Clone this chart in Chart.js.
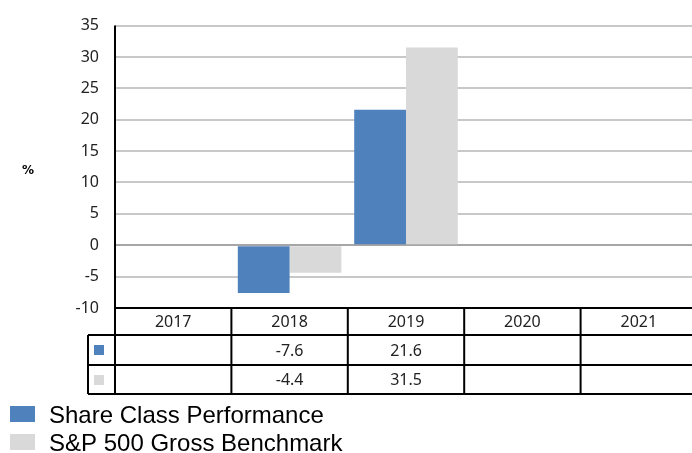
<!DOCTYPE html>
<html lang="en">
<head>
    <meta charset="UTF-8">
    <title>Share Class Performance</title>
    <script src="https://cdn.jsdelivr.net/npm/chart.js"></script>
    <style>
        body {
            margin: 0;
            padding: 0;
            background-color: white;
            overflow: hidden;
        }
        .chart-container {
            width: 697px;
            height: 453px;
            position: relative;
        }
    </style>
</head>
<body>
    <div class="chart-container">
        <canvas id="perfChart"></canvas>
    </div>

    <script>
        const years = ["2017", "2018", "2019", "2020", "2021"];
        const shareClass = [null, -7.6, 21.6, null, null];
        const benchmark = [null, -4.4, 31.5, null, null];
        const seriesNames = ["Share Class Performance", "S&P 500 Gross Benchmark"];
        const seriesColors = ["#4f81bd", "#d9d9d9"];

        const tickFont = "16px 'Noto Sans', sans-serif";

        // data table under the plot + "%" label + legend
        const tablePlugin = {
            id: "tablePlugin",
            afterDraw(chart) {
                const ctx = chart.ctx;
                const area = chart.chartArea;
                const x = chart.scales.x;
                const colW = (area.right - area.left) / years.length;
                const rows = [area.bottom, area.bottom + 27, area.bottom + 57, area.bottom + 86];

                ctx.save();
                ctx.strokeStyle = "#000";
                ctx.lineWidth = 2;

                // horizontal lines
                ctx.beginPath();
                ctx.moveTo(area.left, rows[0]);
                ctx.lineTo(area.right, rows[0]);
                rows.slice(1).forEach(r => {
                    ctx.moveTo(area.left - 27, r);
                    ctx.lineTo(area.right, r);
                });
                // vertical lines
                ctx.moveTo(area.left, area.top);
                ctx.lineTo(area.left, rows[3]);
                ctx.moveTo(area.left - 27, rows[1]);
                ctx.lineTo(area.left - 27, rows[3]);
                for (let i = 1; i < years.length; i++) {
                    const lx = area.left + i * colW;
                    ctx.moveTo(lx, rows[0]);
                    ctx.lineTo(lx, rows[3]);
                }
                ctx.stroke();

                // texts
                ctx.font = tickFont;
                ctx.fillStyle = "#222";
                ctx.textAlign = "center";
                ctx.textBaseline = "middle";
                years.forEach((y, i) => {
                    const cx = x.getPixelForValue(i);
                    ctx.fillText(y, cx, (rows[0] + rows[1]) / 2 + 1);
                    if (shareClass[i] !== null) ctx.fillText(shareClass[i].toFixed(1), cx, (rows[1] + rows[2]) / 2 + 1);
                    if (benchmark[i] !== null) ctx.fillText(benchmark[i].toFixed(1), cx, (rows[2] + rows[3]) / 2 + 1);
                });

                // markers in the first column
                ctx.fillStyle = seriesColors[0];
                ctx.fillRect(area.left - 21, rows[1] + 10, 10, 10);
                ctx.fillStyle = seriesColors[1];
                ctx.fillRect(area.left - 21, rows[2] + 10, 10, 10);

                // % label
                ctx.fillStyle = "#000";
                ctx.font = "bold 12px 'DejaVu Sans', sans-serif";
                ctx.fillText("%", 28, 171);

                // legend
                ctx.font = "24px 'Liberation Sans', Arial, sans-serif";
                ctx.textAlign = "left";
                seriesNames.forEach((name, i) => {
                    const ly = 414 + i * 28;
                    ctx.fillStyle = seriesColors[i];
                    ctx.fillRect(10, ly - 8, 25, 16);
                    ctx.fillStyle = "#000";
                    ctx.fillText(name, 49, ly + 2);
                });
                ctx.restore();
            }
        };

        const ctx = document.getElementById("perfChart").getContext("2d");
        new Chart(ctx, {
            type: "bar",
            data: {
                labels: years,
                datasets: [{
                    label: seriesNames[0],
                    data: shareClass,
                    backgroundColor: seriesColors[0]
                }, {
                    label: seriesNames[1],
                    data: benchmark,
                    backgroundColor: seriesColors[1]
                }]
            },
            options: {
                responsive: true,
                maintainAspectRatio: false,
                animation: false,
                datasets: {
                    bar: { categoryPercentage: 0.89, barPercentage: 1.0 }
                },
                layout: { padding: { top: 24, right: 0, left: 0, bottom: 0 } },
                plugins: {
                    legend: { display: false },
                    tooltip: { enabled: false }
                },
                scales: {
                    x: {
                        ticks: { display: false },
                        grid: { display: false },
                        border: { display: false },
                        afterFit: s => { s.height = 145; }
                    },
                    y: {
                        min: -10,
                        max: 35,
                        ticks: {
                            stepSize: 5,
                            padding: 16,
                            color: "#222",
                            font: { family: "'Noto Sans', sans-serif", size: 16 }
                        },
                        grid: {
                            drawTicks: false,
                            lineWidth: 2,
                            color: c => c.tick.value === 0 ? "#a6a6a6" : "#c8c8c8"
                        },
                        border: { display: false },
                        afterFit: s => { s.width = 115; }
                    }
                }
            },
            plugins: [tablePlugin]
        });
    </script>
</body>
</html>
